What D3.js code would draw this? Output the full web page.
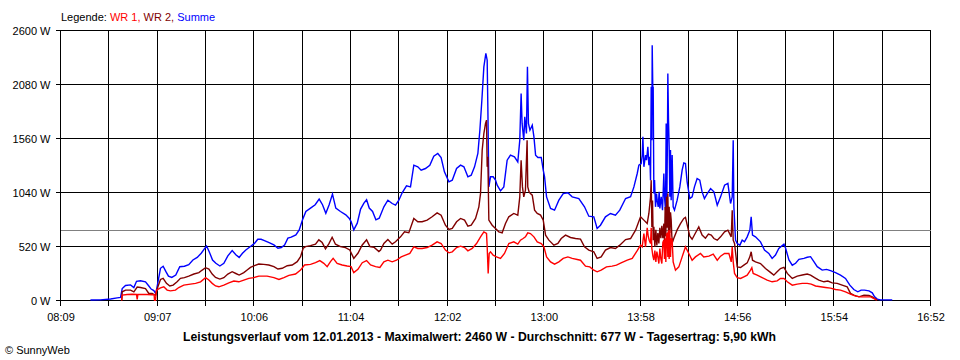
<!DOCTYPE html>
<html><head><meta charset="utf-8">
<script src="https://cdn.jsdelivr.net/npm/d3@7"></script>
<style>
html,body{margin:0;padding:0;background:#fff;}
svg{display:block;font-family:"Liberation Sans",Arial,sans-serif;}
</style></head>
<body>
<svg id="c" width="960" height="360"></svg>
<script>
// ---------- DATA (time = minutes since midnight, value = W) ----------
const xTickLabels = ["08:09","09:07","10:06","11:04","12:02","13:00","13:58","14:56","15:54","16:52"];
const yTicks = [0,520,1040,1560,2080,2600];
const average = 677;
const legendItems = ["WR 1", "WR 2", "Summe"];
const titleText = "Leistungsverlauf vom 12.01.2013 - Maximalwert: 2460 W - Durchschnitt: 677 W - Tagesertrag: 5,90 kWh";

const sumTimes = [507.0,513.0,519.1,523.1,525.1,526.1,528.1,531.1,533.1,534.7,537.1,540.1,542.1,543.5,545.1,546.3,547.5,549.1,550.7,552.3,553.9,555.9,558.3,560.7,563.5,566.1,568.6,571.2,573.6,575.6,576.8,578.4,580.4,582.4,584.8,587.2,589.6,592.2,594.4,596.4,598.4,600.4,603.2,605.6,607.6,609.6,611.6,614.4,617.3,619.7,621.7,623.7,625.7,627.7,630.5,632.5,634.5,636.5,639.3,642.1,644.5,646.5,648.5,650.5,652.5,654.5,657.3,660.5,662.5,663.7,665.3,667.4,669.4,671.4,673.0,674.6,676.6,678.6,680.6,
683.4,685.8,688.4,690.4,692.4,694.4,697.0,699.4,701.4,703.8,705.8,708.4,711.0,713.4,715.8,717.8,719.8,722.5,724.5,727.1,729.5,731.5,733.9,735.9,737.9,739.9,741.1,742.3,743.5,744.7,745.5,745.9,746.5,747.5,749.1,750.5,751.5,753.5,755.5,757.5,759.5,761.9,763.9,765.1,765.9,766.5,767.5,768.1,769.1,769.7,770.3,771.2,772.6,773.6,774.6,776.0,778.0,779.2,780.0,781.2,783.6,786.0,788.6,791.2,794.0,796.6,800.6,
804.0,806.6,809.6,811.6,813.6,816.6,819.6,822.6,825.2,828.7,
831.7,833.7,835.7,836.7,838.1,838.7,839.1,839.7,840.7,841.3,842.1,842.7,843.3,843.7,844.1,844.5,844.7,845.1,845.3,845.7,846.1,846.7,847.3,847.7,848.3,848.9,849.3,850.1,850.9,851.7,852.1,852.7,853.1,853.5,853.9,854.1,854.5,854.9,855.3,855.7,856.1,856.7,857.3,858.1,859.7,861.3,862.7,863.7,864.7,865.7,867.3,868.7,870.1,871.7,873.3,874.7,876.1,877.8,879.8,
881.8,883.8,885.8,888.2,890.2,891.8,892.8,893.4,893.8,894.8,895.8,897.4,898.8,900.2,901.8,903.4,904.2,905.0,906.8,909.8,912.2,914.8,916.8,918.8,920.8,
923.9,924.9,926.9,928.9,930.9,932.9,935.9,937.9,939.9,941.9,943.9,946.9,949.5,951.9,954.9,957.9,960.9,963.5,965.9,968.3,970.3,972.3,975.0,977.0,978.4,980.0,982.0,989.0];
const sumWatts = [5,6,15,25,30,115,145,150,125,185,190,180,140,110,95,65,170,310,330,280,235,222,245,325,330,345,390,415,455,500,525,470,390,358,332,358,430,480,440,415,455,487,520,550,590,590,577,558,535,503,510,535,600,610,632,680,777,857,890,922,977,922,840,922,1025,890,857,825,793,760,680,745,880,938,970,890,857,777,793,
902,966,934,918,966,1037,1104,1094,1303,1287,1255,1271,1303,1390,1416,1377,1239,1143,1159,1271,1303,1287,1191,1207,1287,1416,1640,1929,2250,2379,2314,1865,1094,1191,1191,1159,1110,1056,1094,1351,1400,1384,1335,1544,1993,1705,1544,1769,1608,2250,1705,1640,1688,1576,1400,1377,1377,1255,1191,998,886,870,966,1030,1037,998,982,
902,812,806,693,725,806,838,822,870,982,
1000,1094,1223,1303,1319,1400,1576,1287,1400,1351,1480,1303,1384,1159,2058,1544,2459,2000,2058,1030,1159,902,1030,966,902,1046,886,998,870,1223,998,870,1705,966,1608,2186,1737,1480,998,1448,966,1400,902,870,966,1094,1255,1325,1319,1143,982,998,1094,1175,1159,1046,982,1030,1078,
1046,918,998,1110,1127,934,998,1544,902,581,549,533,581,565,613,677,806,629,613,565,485,453,405,437,501,
542,503,390,340,358,396,406,416,422,374,326,293,300,287,268,245,213,148,106,84,100,100,93,74,35,13,6,6];

const wr2Times = [525.8,526.1,528.1,531.1,533.1,535.1,537.1,540.1,542.1,544.1,546.1,547.5,549.1,550.7,552.7,554.7,556.7,559.1,561.1,563.5,566.1,569.2,572.2,574.2,576.2,578.2,580.2,582.2,584.8,587.2,589.6,592.2,594.4,596.4,599.2,601.2,603.2,605.6,608.2,611.2,614.2,617.3,619.7,622.3,625.3,628.3,631.3,633.3,634.9,636.3,639.3,642.3,644.3,646.3,648.3,650.3,652.3,654.3,657.3,660.3,662.9,665.3,667.8,670.4,673.0,675.0,677.4,680.4,
681.4,683.4,685.8,688.4,690.4,693.4,695.8,698.4,701.4,703.8,706.4,709.4,712.4,715.4,717.8,720.4,722.5,724.5,727.1,729.5,731.9,733.9,735.9,738.5,740.5,741.5,742.5,743.5,744.5,745.1,745.5,745.9,746.5,748.5,750.5,752.5,754.5,756.5,758.5,761.5,763.9,765.1,765.9,766.7,767.5,768.5,769.5,769.9,770.7,771.5,772.6,774.0,775.6,777.6,779.2,780.6,782.6,785.6,788.0,790.0,792.6,795.6,798.6,801.6,
804.0,806.6,809.6,811.6,814.0,816.6,819.6,822.6,825.2,828.7,831.7,834.7,
837.7,839.7,841.7,842.7,843.7,844.1,844.5,844.9,845.3,845.7,846.3,846.9,847.5,848.1,848.7,849.3,849.9,850.5,851.1,851.7,852.1,852.5,852.9,853.3,853.7,854.1,854.5,854.9,855.3,855.7,856.1,856.5,856.9,857.7,859.7,861.7,863.7,864.7,865.7,867.3,868.7,870.7,872.7,874.7,876.7,878.5,
880.2,881.8,883.8,885.8,888.2,890.2,892.2,892.8,893.4,894.2,895.8,897.8,899.8,901.8,903.4,904.2,905.0,906.8,909.8,912.8,915.4,917.8,919.8,921.8,
923.9,925.9,928.9,931.9,934.9,937.9,939.9,942.3,944.9,947.9,950.3,952.9,955.9,958.9,961.9,963.9,965.9,969.0,972.0,975.0,977.0,979.0,980.0];
const wr2Watts = [0,84,100,100,84,130,125,115,68,68,50,130,203,213,165,140,148,180,213,220,235,255,268,293,316,303,255,222,206,220,255,277,260,245,268,293,319,335,351,348,342,326,303,310,335,342,374,422,503,519,529,542,584,558,497,545,609,542,519,509,487,406,455,535,584,519,513,471,
485,549,587,543,565,613,661,652,790,758,758,774,806,844,822,725,684,694,758,790,774,716,725,790,902,1030,1448,1608,1705,1737,1287,1384,774,725,694,661,652,742,806,838,822,998,1351,1094,998,1062,1544,1094,1046,1030,1014,870,838,822,774,629,581,533,549,597,629,607,597,591,
517,485,469,405,420,485,510,501,533,587,597,677,
806,774,742,838,998,1159,709,963,581,709,517,680,530,650,549,700,600,720,600,740,560,900,620,1000,700,1030,650,902,650,850,780,620,560,600,680,740,790,800,730,620,590,650,709,630,600,640,
629,597,581,613,661,677,613,870,581,549,324,318,340,362,420,469,388,372,356,308,276,244,276,308,
319,261,213,235,245,255,245,220,197,180,187,170,165,148,132,68,52,35,52,48,35,13,3];

const wr1Times = [525.8,526.1,529.1,532.1,534.7,535.1,535.5,538.1,541.1,544.1,545.3,545.5,546.1,546.7,549.1,551.1,553.1,555.1,558.1,560.1,563.1,567.1,570.2,573.2,576.2,578.2,580.2,582.2,584.2,587.2,590.2,593.2,596.2,599.2,602.2,605.2,608.2,613.2,617.3,620.3,623.3,626.3,630.3,633.3,635.7,639.3,642.3,644.9,647.3,649.3,651.3,652.9,655.3,658.3,661.3,663.7,665.3,667.8,670.4,673.0,675.4,678.4,681.0,
683.4,685.8,688.4,691.0,693.8,696.4,699.0,701.4,703.8,706.4,709.4,712.4,715.4,717.8,720.4,722.5,724.5,727.1,729.5,731.9,733.9,736.5,739.1,741.5,743.5,745.1,745.5,746.1,746.7,747.5,749.1,751.1,753.5,755.9,758.5,761.5,763.9,765.5,767.1,768.5,769.9,771.5,773.6,775.6,778.0,779.6,781.2,783.6,786.0,788.6,791.2,794.0,796.6,799.6,
801.6,804.6,807.2,809.6,811.6,814.0,817.2,820.6,823.2,826.0,829.7,832.7,
835.7,837.7,838.7,839.7,840.7,841.7,842.3,842.9,843.7,844.1,844.5,845.1,845.7,846.3,846.9,847.5,848.1,848.7,849.3,849.9,850.5,851.1,851.7,852.1,852.5,852.9,853.3,853.7,854.1,854.5,854.9,855.3,855.7,856.1,856.7,857.3,858.7,860.7,862.7,864.7,866.7,868.7,870.7,873.7,875.7,878.8,
881.4,883.8,885.8,888.2,890.8,892.2,892.8,893.4,894.2,895.8,897.8,899.8,901.8,903.8,904.6,905.4,907.8,910.8,913.8,916.8,919.8,921.8,
923.9,925.9,928.9,931.9,934.9,937.9,940.3,942.9,945.9,948.9,951.9,954.9,957.9,960.9,963.9,967.0,970.0,976.0,978.0,979.6];
const wr1Watts = [0,52,58,60,58,10,58,58,58,55,55,3,3,100,122,132,100,93,100,125,148,158,165,180,220,197,165,140,132,148,170,187,180,197,213,220,235,235,220,203,220,242,255,293,342,348,364,384,358,326,374,406,358,342,332,326,268,300,364,384,342,326,319,
372,388,372,388,420,437,453,517,501,501,510,533,565,549,485,459,469,510,523,510,478,501,549,613,661,645,517,260,453,469,437,420,405,453,549,565,543,581,597,613,652,645,613,565,549,517,420,372,350,372,405,420,405,395,
388,331,324,292,276,292,324,331,340,362,388,405,
480,533,517,645,517,700,620,581,549,700,500,430,388,480,372,470,420,356,500,400,356,560,581,400,600,370,640,645,420,677,400,677,420,600,581,372,292,324,420,517,453,388,420,453,420,427,
446,388,427,453,453,372,517,372,260,221,212,228,244,292,315,260,244,221,196,180,189,212,
213,180,148,158,165,165,158,140,132,125,119,106,100,84,61,42,35,35,19,3];

// ---------- CHART ----------
const svg = d3.select("#c");
svg.append("rect").attr("width",960).attr("height",360).attr("fill","#fff");

const t0 = 489, t1 = 1012; // 08:09 .. 16:52
const x = d3.scaleLinear().domain([t0, t1]).range([60.5, 930.5]);
const y = d3.scaleLinear().domain([0, 2600]).range([300.5, 30.5]);

const nGrid = 18;
const gridTimes = d3.range(nGrid + 1).map(i => t0 + i * (t1 - t0) / nGrid);
const labelTimes = gridTimes.filter((d, i) => i % 2 === 0);
const snap = v => Math.round(v - 0.5) + 0.5;

// grid
const grid = svg.append("g").attr("stroke","#000").attr("stroke-width",1).attr("shape-rendering","crispEdges");
grid.selectAll(".vg").data(gridTimes).join("line")
  .attr("x1", d => snap(x(d))).attr("x2", d => snap(x(d)))
  .attr("y1", y(2600)).attr("y2", y(0) + 5);
grid.selectAll(".hg").data(yTicks).join("line")
  .attr("x1", x(t0) - 5).attr("x2", x(t1))
  .attr("y1", d => snap(y(d))).attr("y2", d => snap(y(d)));

// average line
svg.append("line").attr("x1", x(t0)).attr("x2", x(t1))
  .attr("y1", snap(y(average))).attr("y2", snap(y(average)))
  .attr("stroke","#808080").attr("shape-rendering","crispEdges");

// axes (labels only)
const yAxis = d3.axisLeft(y).tickValues(yTicks).tickFormat(d => d + " W").tickSize(5).tickPadding(5);
const gy = svg.append("g").attr("transform", "translate(60.5,0)").call(yAxis);
gy.select(".domain").remove();
gy.selectAll("line").remove();
gy.selectAll("text").attr("font-size", 11).attr("fill", "#000").attr("font-family", "Liberation Sans, Arial, sans-serif");

const xAxis = d3.axisBottom(x).tickValues(labelTimes).tickFormat((d, i) => xTickLabels[i]).tickSize(5).tickPadding(8);
const gx = svg.append("g").attr("transform", "translate(0,300.5)").call(xAxis);
gx.select(".domain").remove();
gx.selectAll("line").remove();
gx.selectAll("text").attr("font-size", 11).attr("fill", "#000").attr("font-family", "Liberation Sans, Arial, sans-serif");

// series
const line = d3.line().x(d => x(d[0])).y(d => y(d[1]));
const series = [
  {times: sumTimes, vals: sumWatts, color: "#0000ff"},
  {times: wr2Times, vals: wr2Watts, color: "#800000"},
  {times: wr1Times, vals: wr1Watts, color: "#ff0000"}
];
series.forEach(s => {
  svg.append("path").datum(s.times.map((t, i) => [t, s.vals[i]]))
    .attr("d", line).attr("fill", "none").attr("stroke", s.color)
    .attr("stroke-width", 1.4).attr("stroke-linejoin", "miter");
});

// legend
const legColors = ["#ff0000", "#800000", "#0000ff"];
const leg = svg.append("text").attr("x", 61).attr("y", 21).attr("font-size", 11);
leg.append("tspan").attr("fill", "#000").text("Legende: ");
legendItems.forEach((name, i) => {
  leg.append("tspan").attr("fill", legColors[i]).text(name + (i < legendItems.length - 1 ? ", " : ""));
});

// title
svg.append("text").attr("x", 183).attr("y", 341)
  .attr("font-size", 12).attr("font-weight", "bold").attr("fill", "#000")
  .attr("textLength", 593).attr("lengthAdjust", "spacingAndGlyphs").text(titleText);
svg.append("text").attr("x", 5).attr("y", 354).attr("font-size", 11).attr("fill", "#000").text("\u00a9 SunnyWeb");
</script>
</body></html>
